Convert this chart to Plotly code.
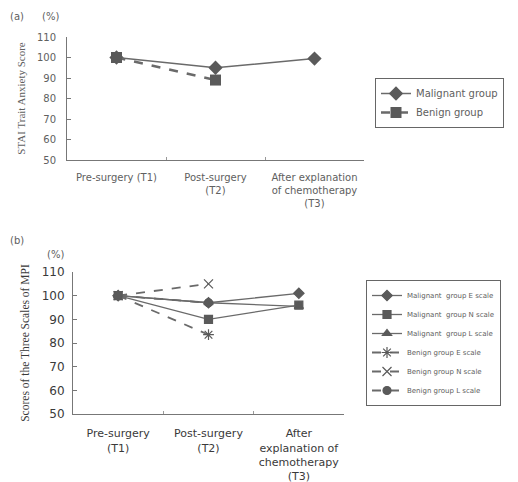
import plotly.graph_objects as go

# ---- data ----
labels_a = ["Pre-surgery (T1)", "Post-surgery<br>(T2)", "After explanation<br>of chemotherapy<br>(T3)"]
labels_b = ["Pre-surgery<br>(T1)", "Post-surgery<br>(T2)", "After<br>explanation of<br>chemotherapy<br>(T3)"]

stai_malignant = [100, 95, 99.5]
stai_benign = [100, 89]

mpi_mal_e = [100, 97, 101]
mpi_mal_n = [100, 90, 96]
mpi_mal_l = [100, 97, 95.5]
mpi_ben_e = [100, 83.5]
mpi_ben_n = [100, 105]
mpi_ben_l = [100, 97]

yticks = [50, 60, 70, 80, 90, 100, 110]

LINE = "#6a6a6a"
MARK = "#5a5a5a"
TXT_A = "#606060"
TXT_B = "#3a3a3a"

# page body has an 8px default margin; figure is sized to fill the rest
OFF = 8
W, H = 518 - OFF, 482 - OFF
def px(x):
    return (x - OFF) / W
def py(y):
    return 1 - (y - OFF) / H

fig = go.Figure()

# panel a
fig.add_trace(go.Scatter(x=labels_a, y=stai_malignant, mode="lines+markers", name="Malignant group",
                         line=dict(color=LINE, width=1.5), marker=dict(symbol="diamond", size=11, color=MARK),
                         xaxis="x", yaxis="y", legend="legend"))
fig.add_trace(go.Scatter(x=labels_a[:len(stai_benign)], y=stai_benign, mode="lines+markers", name="Benign group",
                         line=dict(color=LINE, width=2.5, dash="dash"), marker=dict(symbol="square", size=11, color=MARK),
                         xaxis="x", yaxis="y", legend="legend"))

# panel b
def addb(y, name, sym, dash, size=8, width=1.3):
    fig.add_trace(go.Scatter(x=labels_b[:len(y)], y=y, mode="lines+markers", name=name,
                             line=dict(color=LINE, width=width, dash=dash),
                             marker=dict(symbol=sym, size=size, color=MARK, line=dict(color=MARK, width=1.2)),
                             xaxis="x2", yaxis="y2", legend="legend2"))

addb(mpi_mal_e, "Malignant  group E scale", "diamond", "solid")
addb(mpi_mal_n, "Malignant  group N scale", "square", "solid")
addb(mpi_mal_l, "Malignant  group L scale", "triangle-up", "solid")
addb(mpi_ben_e, "Benign group E scale", "asterisk-open", "dash", size=9, width=1.8)
addb(mpi_ben_n, "Benign group N scale", "x-thin-open", "dash", size=9, width=1.8)
addb(mpi_ben_l, "Benign group L scale", "circle", "dash", size=8, width=1.8)

axis_common = dict(showline=True, linecolor="#777", linewidth=1, showgrid=False, zeroline=False,
                   automargin=False)

fig.update_layout(
    width=W, height=H, margin=dict(l=0, r=0, t=0, b=0, autoexpand=False),
    paper_bgcolor="white", plot_bgcolor="white",
    xaxis=dict(domain=[px(67), px(364)], anchor="y", type="category", categoryarray=labels_a,
               range=[-0.5, 2.5], tickson="boundaries", ticks="inside", ticklen=3, tickcolor="#999",
               ticklabelstandoff=8,
               tickfont=dict(family="DejaVu Sans", size=10, color=TXT_A), **axis_common),
    yaxis=dict(domain=[py(160), py(37)], anchor="x", range=[50, 110], tickvals=yticks,
               ticks="inside", ticklen=4, tickcolor="#777", ticklabelstandoff=8,
               tickfont=dict(family="DejaVu Sans", size=10, color=TXT_A),
               title=dict(text="STAI Trait Anxiety Score", standoff=9,
                          font=dict(family="Liberation Serif", size=11, color=TXT_A)), **axis_common),
    xaxis2=dict(domain=[px(73), px(344)], anchor="y2", type="category", categoryarray=labels_b,
                range=[-0.5, 2.5], tickson="boundaries", ticks="inside", ticklen=3, tickcolor="#999",
                ticklabelstandoff=9,
                tickfont=dict(family="DejaVu Sans", size=11, color=TXT_B), **axis_common),
    yaxis2=dict(domain=[py(414), py(272)], anchor="x2", range=[50, 110], tickvals=yticks,
                ticks="inside", ticklen=4, tickcolor="#777", ticklabelstandoff=5,
                tickfont=dict(family="DejaVu Sans", size=12, color=TXT_B),
                title=dict(text="Scores of the Three Scales of MPI", standoff=9,
                           font=dict(family="Liberation Serif", size=11.5, color=TXT_B)), **axis_common),
    legend=dict(x=px(375), y=py(78), xanchor="left", yanchor="top", bordercolor="#666", borderwidth=1,
                font=dict(family="DejaVu Sans", size=10, color=TXT_A), itemwidth=30, tracegroupgap=0,
                bgcolor="white"),
    legend2=dict(x=px(366), y=py(280), xanchor="left", yanchor="top", bordercolor="#666", borderwidth=1,
                 font=dict(family="DejaVu Sans", size=7, color=TXT_A), itemwidth=30, tracegroupgap=0,
                 bgcolor="white"),
    showlegend=True,
)

ann_font = dict(family="DejaVu Sans", size=10, color=TXT_A)
for txt, x, y in [("(a)", 8, 17), ("(%)", 40, 17), ("(b)", 8, 240), ("(%)", 45, 254)]:
    fig.add_annotation(text=txt, x=px(x), y=py(y), xref="paper", yref="paper",
                       xanchor="left", yanchor="middle", showarrow=False, font=ann_font)

fig.write_html("out.html")
